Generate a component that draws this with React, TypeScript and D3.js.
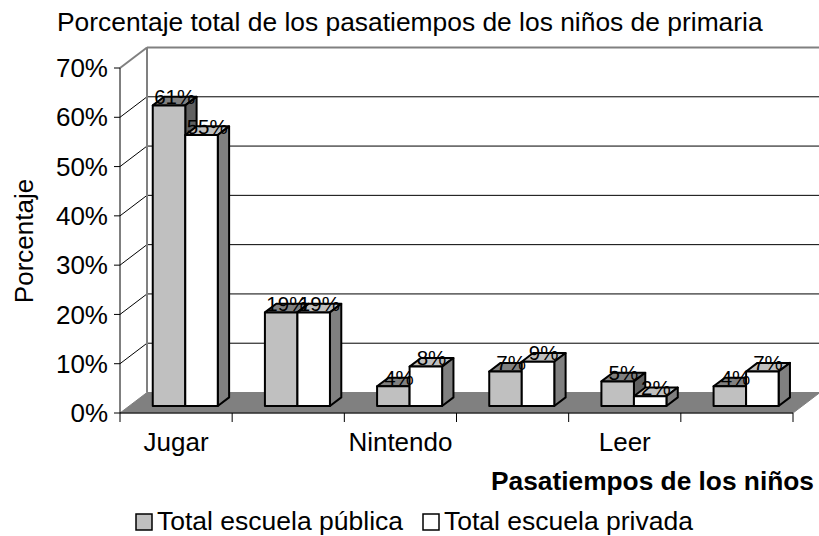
import React from 'react';
import * as d3 from 'd3';

const title = 'Porcentaje total de los pasatiempos de los niños de primaria';
const yAxisTitle = 'Porcentaje';
const xAxisTitle = 'Pasatiempos de los niños';
const categories = ['Jugar', '', 'Nintendo', '', 'Leer', ''];
const seriesNames = ['Total escuela pública', 'Total escuela privada'];
const publicValues = [61, 19, 4, 7, 5, 4];
const privateValues = [55, 19, 8, 9, 2, 7];
const yTicks = [0, 10, 20, 30, 40, 50, 60, 70];

const W = 819;
const H = 536;
const FONT = "'Liberation Sans', Arial, sans-serif";

// plot geometry (front plane)
const X0 = 120;
const X1 = 793;
const Y0 = 413;
const Y70 = 68;
const DEPTH_X = 27;
const DEPTH_Y = -20.5;
const D_FRONT = 0.34;
const D_BACK = 0.76;

const faceColors = [
  { front: '#C0C0C0', top: '#808080', side: '#606060' },
  { front: '#FFFFFF', top: '#C0C0C0', side: '#808080' },
];

export default function App() {
  const y = d3.scaleLinear().domain([0, 70]).range([Y0, Y70]);
  const x = d3
    .scaleBand<number>()
    .domain(categories.map((_, i) => i))
    .range([X0, X1])
    .paddingInner(0)
    .paddingOuter(0);
  const x1 = d3
    .scaleBand<number>()
    .domain([0, 1])
    .range([0, x.bandwidth()])
    .paddingInner(0)
    .paddingOuter(0.725);

  const series = [publicValues, privateValues];
  const bw = x1.bandwidth();
  const fdx = D_FRONT * DEPTH_X;
  const fdy = D_FRONT * DEPTH_Y;
  const ddx = (D_BACK - D_FRONT) * DEPTH_X;
  const ddy = (D_BACK - D_FRONT) * DEPTH_Y;

  const bars: any[] = [];
  const labels: any[] = [];
  categories.forEach((_, ci) => {
    series.forEach((vals, si) => {
      const v = vals[ci];
      const xl = (x(ci) as number) + (x1(si) as number) + fdx;
      const xr = xl + bw;
      const yb = y(0) + fdy;
      const yt = y(v) + fdy;
      const c = faceColors[si];
      const pts = (arr: number[][]) => arr.map((p) => p.join(',')).join(' ');
      bars.push(
        <g key={`b${ci}-${si}`} stroke="#000" strokeWidth={2} strokeLinejoin="round">
          <polygon points={pts([[xl, yt], [xr, yt], [xr + ddx, yt + ddy], [xl + ddx, yt + ddy]])} fill={c.top} />
          <polygon points={pts([[xr, yt], [xr + ddx, yt + ddy], [xr + ddx, yb + ddy], [xr, yb]])} fill={c.side} />
          <rect x={xl} y={yt} width={bw} height={yb - yt} fill={c.front} />
        </g>
      );
      labels.push(
        <text
          key={`l${ci}-${si}`}
          x={xl + bw / 2 + ddx / 2}
          y={yt + ddy}
          dy="0.35em"
          textAnchor="middle"
          fontSize={20.5}
          fontFamily={FONT}
          fill="#000"
        >
          {`${v}%`}
        </text>
      );
    });
  });

  const bx0 = X0 + DEPTH_X;
  const bx1 = X1 + DEPTH_X;

  return (
    <svg
      width={W}
      height={H}
      viewBox={`0 0 ${W} ${H}`}
      style={{ position: 'absolute', left: 0, top: 0, background: '#fff' }}
    >
      <rect x={0} y={0} width={W} height={H} fill="#fff" />
      {/* back wall gridlines */}
      {yTicks.slice(1, -1).map((t) => (
        <line key={`g${t}`} x1={bx0} x2={bx1} y1={y(t) + DEPTH_Y} y2={y(t) + DEPTH_Y} stroke="#000" strokeWidth={1} />
      ))}
      {/* left wall diagonals */}
      {yTicks.slice(1, -1).map((t) => (
        <line key={`d${t}`} x1={X0} x2={bx0} y1={y(t)} y2={y(t) + DEPTH_Y} stroke="#000" strokeWidth={1} />
      ))}
      {/* wall borders */}
      <line x1={bx0} x2={bx1} y1={y(70) + DEPTH_Y} y2={y(70) + DEPTH_Y} stroke="#808080" strokeWidth={2} />
      <line x1={bx0} x2={bx0} y1={y(70) + DEPTH_Y} y2={y(0) + DEPTH_Y} stroke="#808080" strokeWidth={2} />
      <line x1={X0} x2={bx0} y1={y(70)} y2={y(70) + DEPTH_Y} stroke="#808080" strokeWidth={2} />
      {/* floor */}
      <polygon
        points={`${X0},${y(0)} ${X1},${y(0)} ${bx1},${y(0) + DEPTH_Y} ${bx0},${y(0) + DEPTH_Y}`}
        fill="#808080"
        stroke="#808080"
        strokeWidth={1}
      />
      {/* axes */}
      <line x1={X0} x2={X0} y1={y(70)} y2={y(0)} stroke="#000" strokeWidth={1} />
      <line x1={X0} x2={X1} y1={y(0)} y2={y(0)} stroke="#000" strokeWidth={1} />
      {yTicks.map((t) => (
        <line key={`yt${t}`} x1={X0 - 6} x2={X0} y1={y(t)} y2={y(t)} stroke="#000" strokeWidth={1} />
      ))}
      {d3.range(categories.length + 1).map((i) => {
        const xx = X0 + i * x.step();
        return <line key={`xt${i}`} x1={xx} x2={xx} y1={y(0)} y2={y(0) + 9} stroke="#000" strokeWidth={1} />;
      })}
      {bars}
      {labels}
      {/* y tick labels */}
      {yTicks.map((t) => (
        <text key={`ytl${t}`} x={108} y={y(t)} dy="0.35em" textAnchor="end" fontSize={26} fontFamily={FONT} fill="#000">
          {`${t}%`}
        </text>
      ))}
      {/* category labels */}
      {categories.map((c, i) =>
        c ? (
          <text
            key={`c${i}`}
            x={(x(i) as number) + x.bandwidth() / 2}
            y={451}
            textAnchor="middle"
            fontSize={26}
            fontFamily={FONT}
            fill="#000"
          >
            {c}
          </text>
        ) : null
      )}
      {/* titles */}
      <text x={57} y={31} fontSize={26.4} fontFamily={FONT} fill="#000">
        {title}
      </text>
      <text
        transform={`translate(33,241) rotate(-90)`}
        textAnchor="middle"
        fontSize={26}
        fontFamily={FONT}
        fill="#000"
      >
        {yAxisTitle}
      </text>
      <text x={814} y={490} textAnchor="end" fontSize={26.3} fontWeight="bold" fontFamily={FONT} fill="#000">
        {xAxisTitle}
      </text>
      {/* legend */}
      {seriesNames.map((s, i) => {
        const lx = i === 0 ? 136 : 423;
        return (
          <g key={`lg${i}`}>
            <rect x={lx} y={514} width={16} height={16} fill={faceColors[i].front} stroke="#000" strokeWidth={1.5} />
            <text x={lx + 21} y={530} fontSize={26.5} fontFamily={FONT} fill="#000">
              {s}
            </text>
          </g>
        );
      })}
    </svg>
  );
}
